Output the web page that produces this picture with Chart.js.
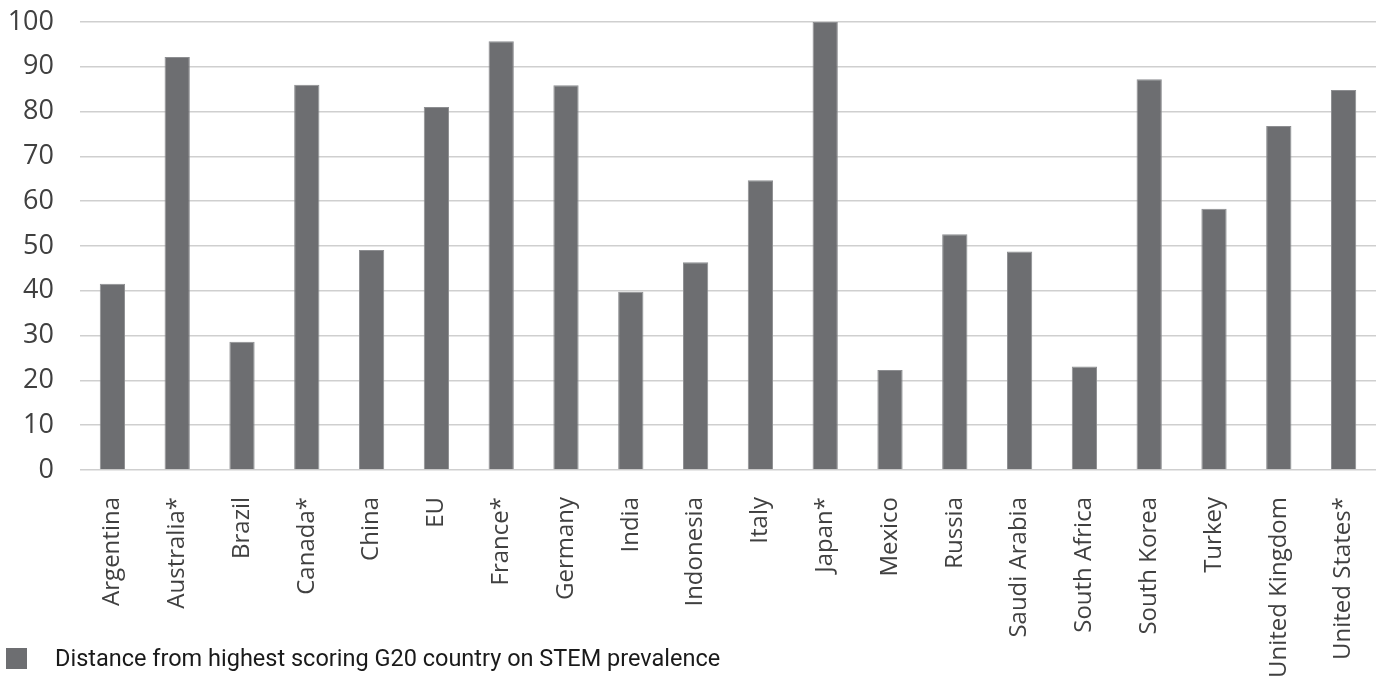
<!DOCTYPE html>
<html lang="en">
<head>
  <meta charset="UTF-8" />
  <title>STEM prevalence - G20</title>
  <script src="https://cdn.jsdelivr.net/npm/chart.js"></script>
  <style>
    html, body {
      margin: 0;
      padding: 0;
      background-color: #fff;
    }
    .wrap {
      position: relative;
      width: 1390px;
      height: 684px;
    }
    .legend {
      position: absolute;
      left: 6px;
      top: 644px;
      font-family: 'Roboto', sans-serif;
      font-size: 23.5px;
      color: #1a1a1a;
      display: flex;
      align-items: center;
    }
    .legend .box {
      width: 21px;
      height: 21px;
      background-color: #6d6e71;
      margin-right: 28px;
    }
  </style>
</head>
<body>

  <div class="wrap">
    <canvas id="stemChart" width="1390" height="684"></canvas>
    <div class="legend"><span class="box"></span>Distance from highest scoring G20 country on STEM prevalence</div>
  </div>

  <script>
    const countries = ["Argentina", "Australia*", "Brazil", "Canada*", "China", "EU", "France*", "Germany",
      "India", "Indonesia", "Italy", "Japan*", "Mexico", "Russia", "Saudi Arabia", "South Africa",
      "South Korea", "Turkey", "United Kingdom", "United States*"];
    const distance = [41.6, 92.2, 28.6, 86.0, 49.1, 81.0, 95.7, 85.9,
      39.8, 46.4, 64.7, 100, 22.3, 52.6, 48.8, 23.1,
      87.2, 58.3, 76.8, 84.8];
    const yTicks = [0, 10, 20, 30, 40, 50, 60, 70, 80, 90, 100];

    new Chart(document.getElementById('stemChart'), {
      type: 'bar',
      data: {
        labels: countries,
        datasets: [{
          label: 'Distance from highest scoring G20 country on STEM prevalence',
          data: distance,
          backgroundColor: '#6d6e71',
          borderColor: '#8d8e91',
          borderWidth: 1,
          categoryPercentage: 1,
          barPercentage: 0.39
        }]
      },
      options: {
        responsive: false,
        animation: false,
        layout: { autoPadding: false, padding: { left: 7, right: 14, top: 22, bottom: 0 } },
        plugins: {
          legend: { display: false },
          tooltip: { enabled: false }
        },
        scales: {
          x: {
            grid: { display: false, drawTicks: false },
            border: { display: false },
            // fixed sizes so the plot sits where the original one does
            afterFit: axis => {
              axis.height = 214;
              axis.paddingLeft = 0;
              axis.paddingRight = 0;
            },
            ticks: {
              autoSkip: false,
              maxRotation: 90,
              minRotation: 90,
              padding: 27,
              color: '#404040',
              font: { family: "'Open Sans', sans-serif", size: 24 }
            }
          },
          y: {
            min: 0,
            max: 100,
            afterBuildTicks: axis => { axis.ticks = yTicks.map(v => ({ value: v })); },
            afterFit: axis => {
              axis.width = 73;
              axis.paddingTop = 0;
              axis.paddingBottom = 0;
            },
            grid: { color: '#cfcfcf', lineWidth: 1.5, drawTicks: false },
            border: { display: false },
            ticks: {
              padding: 26,
              color: '#404040',
              font: { family: "'Open Sans', sans-serif", size: 27 }
            }
          }
        }
      }
    });
  </script>
</body>
</html>
